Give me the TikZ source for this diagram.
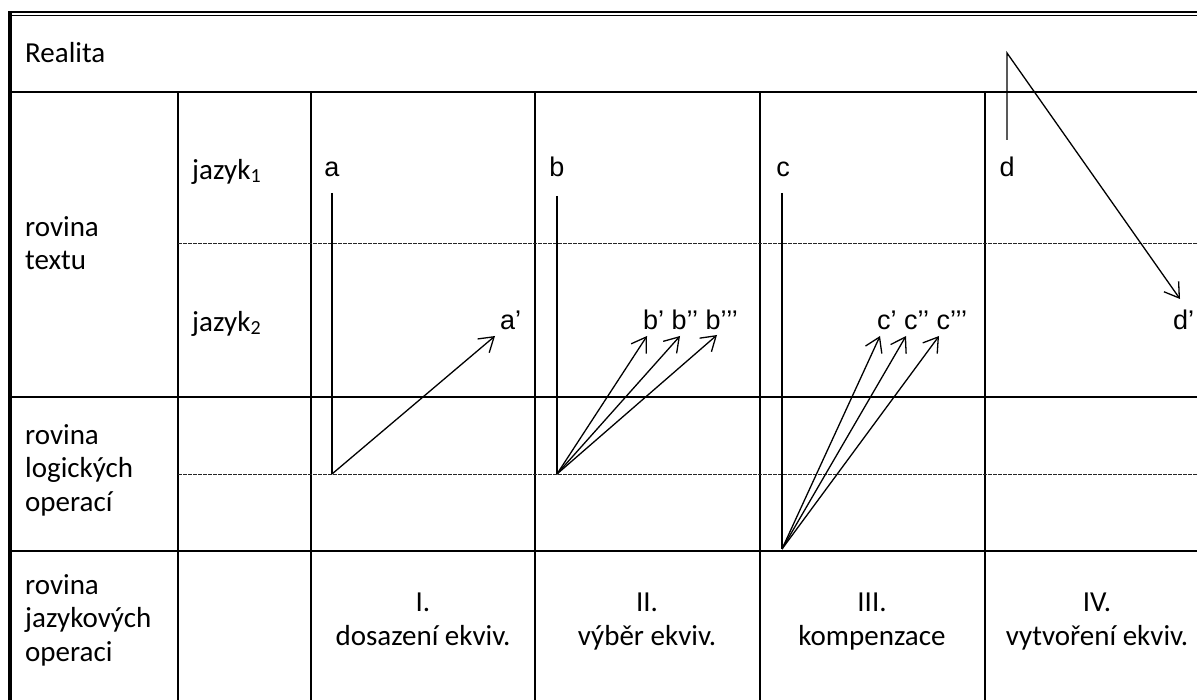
\documentclass[tikz,border=0pt]{standalone}
\usepackage{fontspec}
\setmainfont{Carlito}
\newfontfamily\lblfont{Liberation Sans}
\usetikzlibrary{arrows.meta}
\begin{document}
\begin{tikzpicture}[x=1pt,y=-1pt,
  grid/.style={line width=2.2pt},
  dashgrid/.style={line width=0.9pt,dash pattern=on 3.5pt off 1.5pt,black!85},
  txt/.style={inner sep=0pt,anchor=base west,font=\fontsize{29}{33.5}\selectfont,align=left},
  ctxt/.style={inner sep=0pt,anchor=base,font=\fontsize{29}{33.5}\selectfont,align=center},
  lbl/.style={inner sep=0pt,anchor=base,font=\lblfont\fontsize{27}{32}\selectfont},
  lblw/.style={inner sep=0pt,anchor=base west,font=\lblfont\fontsize{27}{32}\selectfont},
  conn/.style={line width=1.3pt},
  arr/.style={line width=1.3pt,-{Straight Barb[length=14pt,width=18pt,line width=1.3pt]}}]
\useasboundingbox (0,0) rectangle (1197,700);
% table frame
\draw[line width=1.8pt] (9,12.3) -- (1197,12.3);
\draw[line width=1.8pt] (9,15.6) -- (1197,15.6);
\draw[line width=4pt] (10.3,11.4) -- (10.3,700);
\draw[grid] (10,92) -- (1197,92);
\draw[grid] (10,397) -- (1197,397);
\draw[grid] (10,551) -- (1197,551);
\foreach \x in {178,311,535,760,985} \draw[grid] (\x,92) -- (\x,700);
\draw[dashgrid] (178,243.5) -- (1197,243.5);
\draw[dashgrid] (178,474) -- (1197,474);
% row labels (base anchor = baseline of the last line)
\node[txt] (realita) at (25,63) {Realita};
\node[txt] (rtext) at (25,270) {rovina\\textu};
\node[txt] (rlog) at (25,511) {rovina\\logických\\operací};
\node[txt] (rjaz) at (25,661) {rovina\\jazykových\\operaci};
\node[txt] (j1) at (192,180) {jazyk{\fontsize{20}{20}\selectfont\raisebox{-3pt}{1}}};
\node[txt] (j2) at (192,332) {jazyk{\fontsize{20}{20}\selectfont\raisebox{-3pt}{2}}};
% column labels
\node[ctxt] (c1) at (423,645) {I.\\dosazení ekviv.};
\node[ctxt] (c2) at (647,645) {II.\\výběr ekviv.};
\node[ctxt] (c3) at (872,645) {III.\\kompenzace};
\node[ctxt] (c4) at (1097,645) {IV.\\vytvoření ekviv.};
% letters
\node[lbl] (la) at (332,177) {a};
\node[lbl] (lb) at (557,177) {b};
\node[lbl] (lc) at (783,177) {c};
\node[lbl] (ld) at (1007,177) {d};
\node[lblw] (la1) at (500,330) {a’};
\node[lblw] (lb1) at (643,330) {b’ b’’ b’’’};
\node[lblw] (lc1) at (877,330) {c’ c’’ c’’’};
\node[lblw] (ld1) at (1173,330) {d’};
% coordinates
\coordinate (aT) at (332,193);
\coordinate (aB) at (332,474);
\coordinate (aE) at (495,336);
\coordinate (bT) at (557,196);
\coordinate (bB) at (557,474);
\coordinate (bE1) at (647,336);
\coordinate (bE2) at (680,336);
\coordinate (bE3) at (717,335);
\coordinate (cT) at (782,193);
\coordinate (cB) at (782,549);
\coordinate (cE1) at (880,336);
\coordinate (cE2) at (906,336);
\coordinate (cE3) at (939,336);
\coordinate (dB) at (1007,140);
\coordinate (dT) at (1007,53);
\coordinate (dE) at (1180,299);
% connectors
\draw[conn] (aT) -- (aB);
\draw[arr] (aB) -- (aE);
\draw[conn] (bT) -- (bB);
\draw[arr] (bB) -- (bE1);
\draw[arr] (bB) -- (bE2);
\draw[arr] (bB) -- (bE3);
\draw[conn] (cT) -- (cB);
\draw[arr] (cB) -- (cE1);
\draw[arr] (cB) -- (cE2);
\draw[arr] (cB) -- (cE3);
\draw[arr] (dB) -- (dT) -- (dE);
\end{tikzpicture}
\end{document}
